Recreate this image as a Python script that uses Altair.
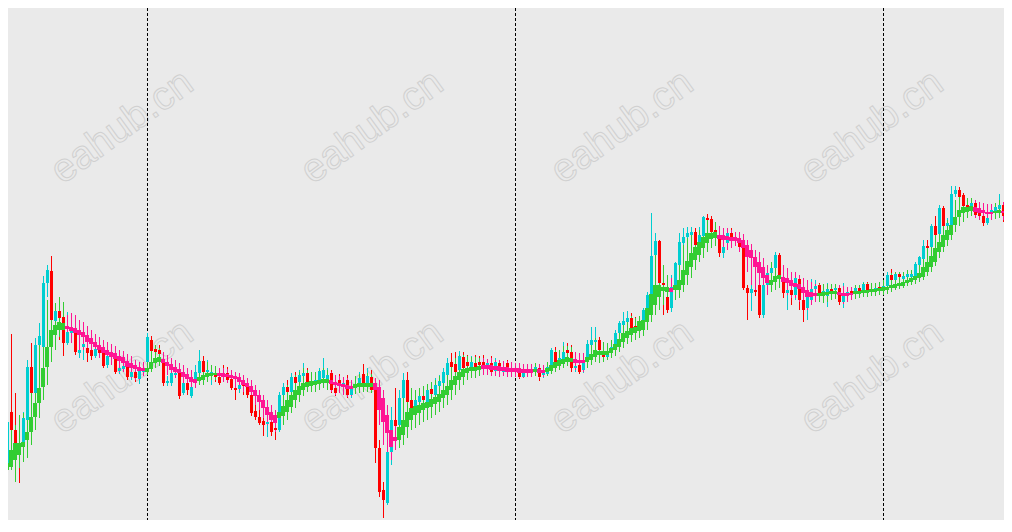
import altair as alt
import pandas as pd

# Price values in points (higher = higher price), one entry per bar
OPEN = [540,537,588,570,557,553,580,633,607,655,
        653,717,729,679,689,683,657,667,669,647,
        653,652,650,644,652,647,635,647,645,629,
        631,634,623,628,621,628,638,660,651,650,
        638,617,617,625,627,607,617,604,620,627,
        639,628,625,627,623,627,627,621,612,611,
        618,615,605,589,583,579,576,578,572,570,
        605,613,608,623,618,624,627,619,615,618,
        622,620,627,612,620,615,620,605,615,613,
        626,617,623,617,552,510,497,548,580,575,
        602,620,600,592,598,604,598,611,605,614,
        617,625,638,636,630,643,638,630,637,638,
        638,631,637,629,637,628,637,628,631,632,
        623,628,630,630,632,625,626,634,648,638,
        640,650,648,632,635,630,640,655,658,660,
        648,643,648,652,667,675,678,682,674,670,
        677,690,705,745,759,717,703,692,713,735,
        757,763,765,768,755,764,782,781,770,765,
        747,757,767,760,761,760,712,707,710,715,
        685,715,727,732,745,721,707,710,705,721,
        700,692,700,711,715,707,704,711,710,712,
        698,706,709,707,712,710,716,710,711,713,
        712,714,725,720,726,721,723,723,723,735,
        741,754,753,774,766,792,774,775,806,810,
        805,795,793,797,787,784,777,787,789,791,
        795,783,787]

HIGH = [552,582,666,607,560,588,640,657,662,677,
        724,735,744,697,703,688,688,676,676,660,
        668,660,656,660,660,655,650,655,650,643,
        640,640,634,632,634,636,667,664,655,655,
        645,624,632,635,632,622,622,620,635,650,
        644,640,635,634,630,635,633,627,620,622,
        624,620,612,595,590,585,588,582,578,608,
        617,620,627,628,630,637,632,625,626,632,
        642,632,630,620,626,623,625,620,622,628,
        636,632,630,620,560,518,555,593,612,610,
        627,628,608,605,612,610,615,618,622,625,
        632,642,647,648,649,648,645,644,645,644,
        645,640,644,642,640,635,640,634,634,634,
        632,633,632,637,634,631,636,652,653,645,
        658,657,655,638,640,645,660,673,673,663,
        655,655,660,670,679,688,689,687,683,682,
        692,708,787,767,760,717,710,725,738,767,
        772,773,773,772,773,784,786,784,775,770,
        760,772,772,766,767,762,715,717,715,726,
        718,730,735,748,747,725,717,716,725,724,
        704,707,721,720,717,715,717,715,716,715,
        717,712,712,715,715,718,718,715,715,716,
        718,728,731,728,728,727,728,729,738,744,
        760,760,776,784,795,794,782,814,814,813,
        807,800,802,800,792,788,787,795,796,806,
        797,795,807]

LOW = [523,500,560,545,517,542,560,600,598,650,
       650,703,675,670,660,644,655,659,645,642,
       640,638,640,642,643,632,632,640,626,626,
       628,620,620,618,616,624,630,642,644,640,
       614,614,614,622,601,605,605,602,616,622,
       624,620,615,618,615,620,617,610,600,607,
       605,602,584,580,575,564,563,564,560,568,
       600,602,605,610,612,620,614,608,610,615,
       618,616,607,604,612,605,602,602,610,610,
       614,614,607,537,503,482,495,535,560,570,
       595,594,588,580,585,590,592,595,600,602,
       605,610,625,620,625,628,630,625,626,630,
       628,625,626,626,626,626,625,625,626,621,
       622,624,624,628,619,622,624,632,634,632,
       638,642,628,628,626,627,638,648,643,637,
       639,640,644,648,660,662,670,664,667,666,
       670,684,700,738,715,685,687,688,708,732,
       755,758,752,750,750,760,770,764,760,743,
       742,752,756,755,750,710,680,689,704,682,
       682,710,715,725,720,702,690,695,700,690,
       678,680,698,709,704,697,693,700,705,695,
       692,702,700,702,704,707,706,706,707,709,
       708,710,717,717,720,718,721,720,721,732,
       738,746,750,762,764,772,770,773,803,798,
       778,788,787,782,780,774,775,784,784,785,
       778,780,784]

CLOSE = [533,578,570,557,548,582,633,607,655,664,
         717,730,680,689,682,657,668,670,648,650,
         656,647,644,651,647,634,644,643,628,632,
         634,623,628,622,629,630,663,649,648,646,
         617,619,627,627,604,617,610,613,628,639,
         628,630,628,623,617,623,620,612,610,615,
         614,605,587,583,577,575,578,568,570,605,
         613,608,623,617,625,627,618,617,620,629,
         630,625,610,607,617,617,605,612,613,622,
         617,624,610,552,508,500,548,580,574,602,
         620,598,592,600,604,600,610,606,615,619,
         628,637,633,628,644,632,634,638,632,635,
         631,637,628,638,629,631,628,631,629,623,
         628,630,627,633,623,628,633,650,637,642,
         648,647,632,634,628,640,656,660,660,650,
         643,648,653,667,677,679,682,670,671,675,
         690,705,744,759,717,715,690,713,737,758,
         763,767,768,755,765,783,780,768,765,747,
         753,767,760,762,753,712,707,711,708,685,
         715,727,732,745,725,707,710,705,722,700,
         690,703,711,714,707,709,711,709,712,698,
         705,708,706,712,708,716,710,711,712,711,
         714,725,720,726,723,724,726,726,736,743,
         754,752,774,765,792,774,777,806,810,803,
         794,793,797,785,784,777,782,790,793,795,
         784,787,805]

# Smoothed Heiken-Ashi indicator: body top / bottom and wick high / low
HA_BODY_TOP = [533,537,550,557,557,558,568,583,597,612,
               632,653,670,675,678,677,674,673,672,670,
               668,665,662,658,655,653,650,648,647,644,
               643,639,637,635,633,632,632,638,642,643,
               641,638,636,633,631,628,626,623,621,623,
               625,627,627,627,627,627,626,625,624,623,
               620,617,614,610,605,600,593,588,585,588,
               594,600,605,610,614,617,618,619,619,620,
               621,621,620,618,617,616,615,614,616,617,
               617,617,617,617,613,602,585,570,563,573,
               580,588,592,594,595,597,598,601,603,606,
               610,614,620,624,628,631,632,633,633,634,
               635,635,635,634,634,633,633,632,632,632,
               631,631,631,631,631,630,632,635,638,640,
               641,643,642,641,640,640,643,646,650,649,
               649,649,652,656,661,667,669,672,673,679,
               680,692,706,715,715,713,713,712,715,720,
               730,739,747,753,758,763,767,767,768,765,
               765,764,763,763,762,760,755,750,743,738,
               733,725,720,724,725,723,722,720,717,716,
               713,710,708,707,707,708,708,709,709,708,
               707,707,707,709,709,710,710,711,711,712,
               713,713,715,716,717,718,720,722,724,727,
               733,738,744,752,758,765,770,775,783,790,
               793,793,794,793,792,790,788,788,789,790,
               789,790,791]

HA_BODY_BOTTOM = [528,530,533,540,545,553,560,568,583,597,
                  613,633,653,665,670,670,671,669,667,665,
                  663,658,656,653,650,647,645,643,641,639,
                  637,633,632,631,629,629,628,631,637,638,
                  637,634,630,628,627,623,621,618,617,619,
                  620,623,624,625,624,623,623,622,621,618,
                  615,613,608,604,598,592,585,580,577,582,
                  584,588,593,600,605,610,613,614,615,616,
                  617,617,616,615,614,613,611,611,612,613,
                  613,613,613,610,590,578,567,553,559,560,
                  565,573,580,585,587,590,592,593,596,598,
                  602,605,610,615,620,623,627,629,629,630,
                  631,631,630,630,629,629,628,628,628,627,
                  627,627,627,628,627,627,628,629,632,634,
                  636,638,638,637,637,637,638,640,643,645,
                  645,645,647,650,653,658,662,665,667,669,
                  670,678,685,695,703,709,708,708,710,710,
                  715,725,733,740,745,752,757,761,762,761,
                  760,760,759,759,757,752,743,742,733,727,
                  722,717,715,718,721,718,717,714,713,711,
                  707,703,703,704,704,704,705,706,706,705,
                  704,704,705,706,706,707,707,708,708,709,
                  709,710,712,712,714,714,717,718,720,722,
                  723,728,733,738,748,753,760,765,775,783,
                  787,788,789,788,787,787,786,786,787,787,
                  787,787,788]

HA_WICK_HIGH = [542,560,570,575,585,587,605,620,638,655,
                680,700,710,697,703,698,685,687,685,680,
                678,674,670,666,663,660,658,656,654,650,
                649,646,644,640,638,638,648,657,655,652,
                648,645,642,640,637,635,632,630,628,640,
                638,638,635,634,632,632,631,630,628,627,
                625,622,620,615,610,605,600,595,590,602,
                610,615,622,625,628,632,630,628,628,630,
                632,630,628,625,624,623,622,620,624,626,
                626,627,626,622,620,610,595,580,575,595,
                605,610,612,610,612,614,616,618,620,624,
                628,632,638,642,645,645,644,643,643,642,
                642,641,642,640,640,639,639,638,637,637,
                636,636,636,637,636,635,638,645,650,650,
                654,654,653,648,647,647,655,660,662,660,
                658,657,660,665,672,678,682,684,682,684,
                690,702,730,745,745,735,725,722,730,742,
                755,762,765,768,770,778,780,780,778,774,
                772,772,770,768,768,766,760,756,750,748,
                742,735,738,742,742,735,732,728,728,725,
                722,720,718,716,716,716,716,716,716,715,
                714,713,713,715,715,717,717,717,717,718,
                720,724,727,728,728,728,730,730,735,740,
                748,752,760,766,772,778,780,790,800,804,
                804,802,802,800,798,797,796,796,797,800,
                798,798,802]

HA_WICK_LOW = [522,520,530,518,532,538,542,555,570,582,
               600,615,638,650,663,667,665,657,652,648,
               650,650,645,645,642,638,636,635,630,628,
               628,623,622,620,620,624,625,628,632,634,
               630,625,622,622,615,613,610,610,612,615,
               615,618,620,620,618,618,617,614,612,610,
               608,605,600,595,590,582,575,572,568,572,
               575,580,587,592,598,604,608,608,608,610,
               612,610,608,605,607,605,603,604,606,607,
               608,608,607,600,575,555,545,540,550,552,
               555,562,570,572,575,578,580,582,585,588,
               592,595,600,605,610,615,620,622,622,624,
               625,625,624,624,623,624,623,623,623,622,
               622,623,623,624,622,623,624,626,628,630,
               632,634,632,630,628,628,632,635,638,637,
               638,640,642,644,648,652,656,658,660,662,
               664,670,678,685,690,695,695,692,700,702,
               708,715,722,730,738,742,748,752,754,750,
               748,750,752,754,748,738,728,715,710,702,
               700,705,708,710,712,708,705,702,702,698,
               692,690,695,698,698,697,698,700,701,698,
               696,698,700,701,702,703,703,704,704,705,
               705,706,708,710,711,712,714,715,716,718,
               720,724,728,734,742,748,754,760,768,774,
               778,782,784,782,780,778,778,780,781,782,
               780,781,782]

# Indicator direction, as runs of (direction, number of bars)
HA_TREND_RUNS = [("up",16),("down",20),("up",4),("down",9),("up",5),("down",15),
                 ("up",13),("down",6),("up",5),("down",6),("up",21),("down",13),
                 ("up",1),("down",2),("up",7),("down",3),("up",21),("down",1),
                 ("up",11),("down",13),("up",3),("down",9),("up",5),("down",4),
                 ("up",30),("down",5),("up",2),("down",1),("up",2)]

PERIOD_SEPARATORS = [36, 128, 220]

WATERMARK_TEXT = "eahub.cn"
WATERMARK_X = [114, 364, 614, 864, 114, 364, 614, 864]
WATERMARK_Y = [119, 119, 119, 119, 369, 369, 369, 369]

n = len(OPEN)
for arr in (HIGH, LOW, CLOSE, HA_BODY_TOP, HA_BODY_BOTTOM, HA_WICK_HIGH, HA_WICK_LOW):
    assert len(arr) == n, len(arr)

ha_dir = []
for d, c in HA_TREND_RUNS:
    ha_dir += [d] * c
assert len(ha_dir) == n, len(ha_dir)

df = pd.DataFrame({
    "i": list(range(n)),
    "open": OPEN, "high": HIGH, "low": LOW, "close": CLOSE,
    "ha_top": HA_BODY_TOP, "ha_bottom": HA_BODY_BOTTOM,
    "ha_high": HA_WICK_HIGH, "ha_low": HA_WICK_LOW,
})
df["candle_kind"] = ["bull" if c > o else "bear" for o, c in zip(OPEN, CLOSE)]
df["ha_kind"] = ["ha_up" if d == "up" else "ha_down" for d in ha_dir]
df["body_x1"] = df["i"] - 0.375
df["body_x2"] = df["i"] + 0.375
df["band_x1"] = df["i"] - 0.625
df["band_x2"] = df["i"] + 0.375

W, H = 996, 512
xs = alt.Scale(domain=[1.125, 250.125], nice=False, zero=False)
ys = alt.Scale(domain=[480, 992], nice=False, zero=False)
cs = alt.Scale(domain=["bull", "bear", "ha_up", "ha_down"],
               range=["#00CED1", "#FF0000", "#32CD32", "#FF1493"])

base = alt.Chart(df)

candle_wicks = base.mark_rule(strokeWidth=1, clip=True).encode(
    x=alt.X("i:Q", scale=xs, axis=None),
    y=alt.Y("low:Q", scale=ys, axis=None), y2="high:Q",
    color=alt.Color("candle_kind:N", scale=cs, legend=None))

ha_wicks = base.mark_rule(strokeWidth=1, clip=True).encode(
    x=alt.X("i:Q", scale=xs, axis=None),
    y=alt.Y("ha_low:Q", scale=ys, axis=None), y2="ha_high:Q",
    color=alt.Color("ha_kind:N", scale=cs, legend=None))

bodies = base.mark_rect(clip=True).encode(
    x=alt.X("body_x1:Q", scale=xs, axis=None), x2="body_x2:Q",
    y=alt.Y("open:Q", scale=ys, axis=None), y2="close:Q",
    color=alt.Color("candle_kind:N", scale=cs, legend=None))

bands = base.mark_rect(clip=True).encode(
    x=alt.X("band_x1:Q", scale=xs, axis=None), x2="band_x2:Q",
    y=alt.Y("ha_bottom:Q", scale=ys, axis=None), y2="ha_top:Q",
    color=alt.Color("ha_kind:N", scale=cs, legend=None))

seps = alt.Chart(pd.DataFrame({"i": PERIOD_SEPARATORS})).mark_rule(
    color="black", strokeWidth=1, strokeDash=[3, 2], clip=True).encode(
    x=alt.X("i:Q", scale=xs, axis=None),
    y=alt.value(0), y2=alt.value(H))

marks = []
for wx, wy in zip(WATERMARK_X, WATERMARK_Y):
    marks.append(alt.Chart(pd.DataFrame({"t": [WATERMARK_TEXT]})).mark_text(
        angle=324, fontSize=40, font="Liberation Sans", align="center",
        baseline="middle", fillOpacity=0, stroke="#D0D0D0", strokeWidth=1
    ).encode(x=alt.value(wx), y=alt.value(wy), text="t:N"))

chart = alt.layer(*marks, seps, candle_wicks, ha_wicks, bodies, bands).properties(
    width=W, height=H, padding=0
).configure(background="#EAEAEA").configure_view(strokeWidth=0)

chart.save("out.html", embed_options={"renderer": "svg", "actions": False})
